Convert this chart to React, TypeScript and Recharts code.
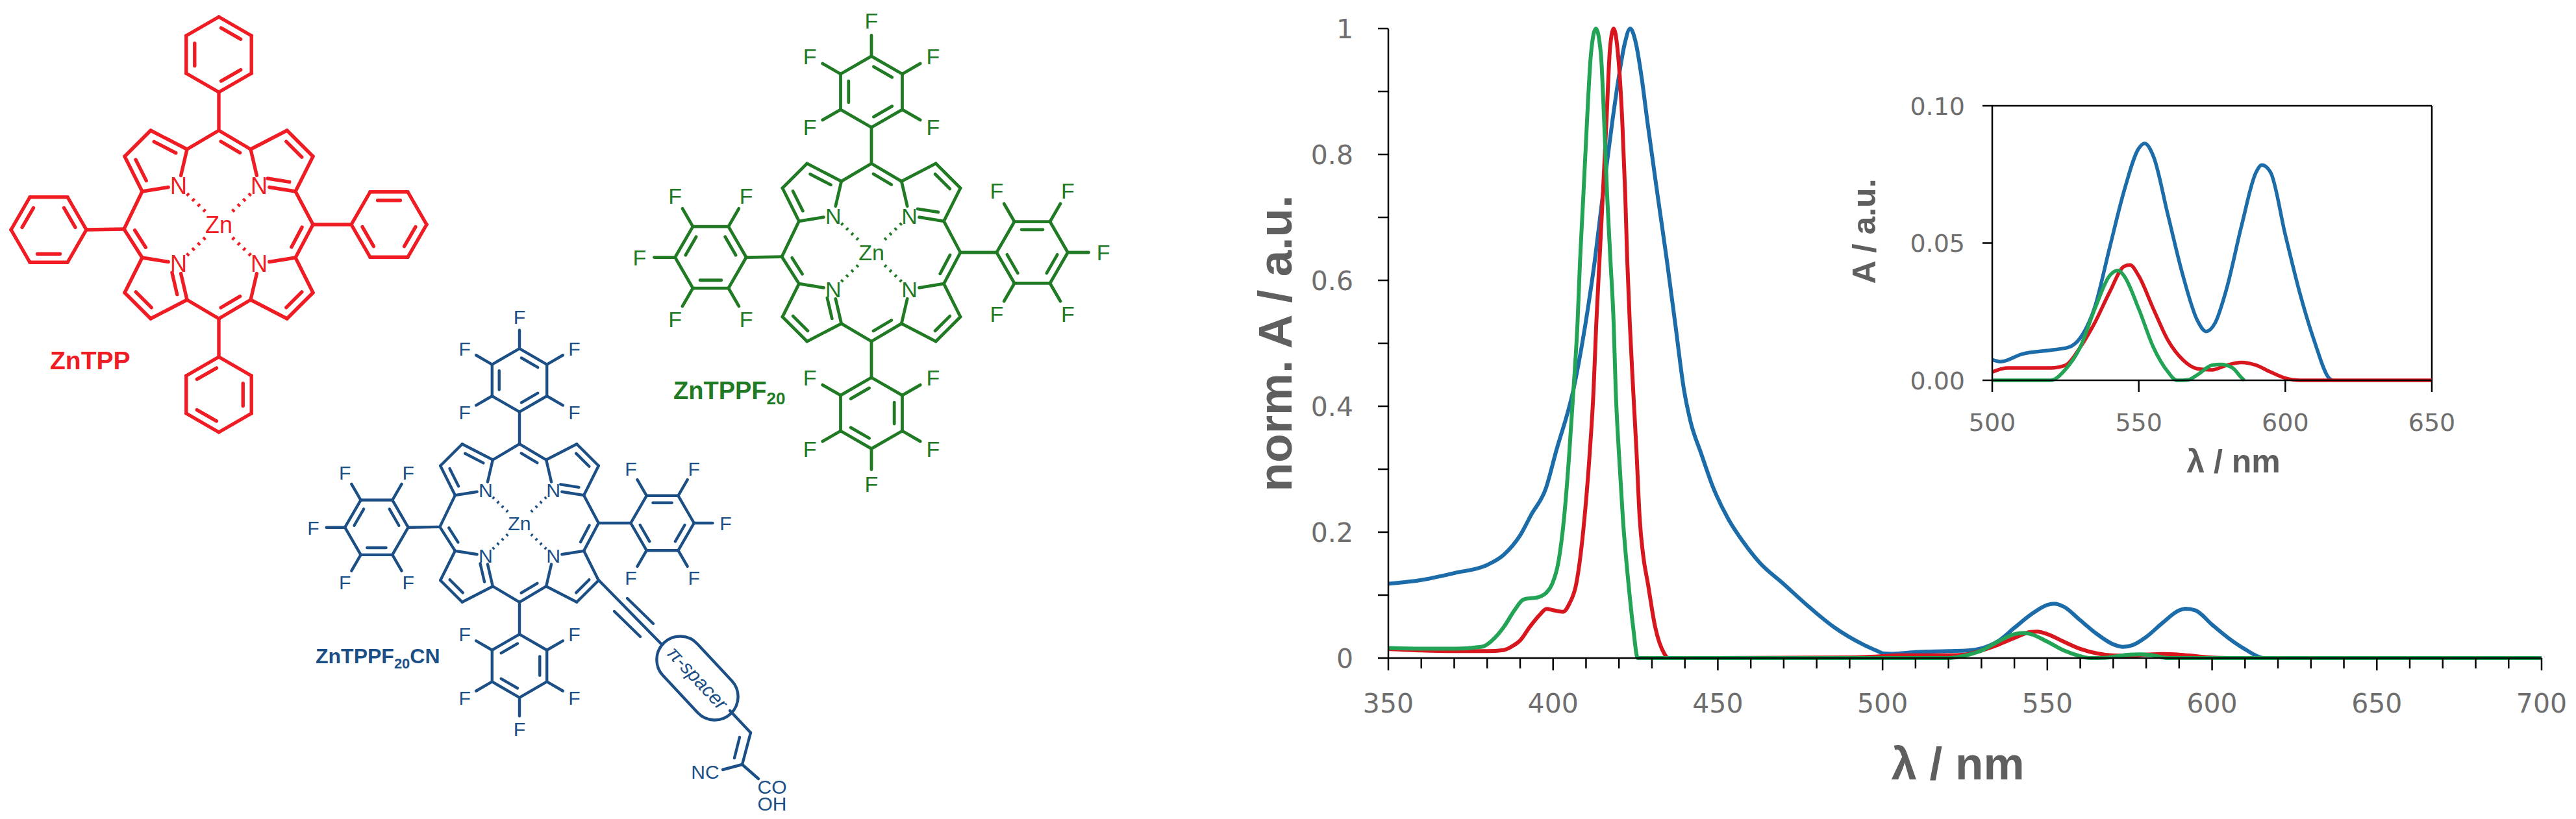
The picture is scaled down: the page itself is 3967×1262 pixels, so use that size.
import { LineChart, Line, XAxis, YAxis, Label, ReferenceLine } from 'recharts';

const W = 3967;
const H = 1262;
const FONT = '"Liberation Sans", Arial, sans-serif';
const TICK_FONT = '"DejaVu Sans", sans-serif';
const BLUE = '#1b6ca8';
const RED = '#d8161e';
const GREEN = '#22a356';
const GRAY = '#6e6e6e';
const TITLE = '#5f5f5f';

// Soret region, main panel only
const blueSoretWave = [350, 360, 370, 380, 385, 390, 393.4, 397.7, 401, 406.2, 409.8, 412.7, 415.1, 418, 420, 421.7, 423.4, 425.2, 426.8, 428.6, 431.7, 434.5, 437.1, 439.7, 441.7, 445, 448.5, 453.2, 457.5, 462.6, 470, 477.3, 485.3, 494.3, 498.9];
const blueSoretVal = [0.118, 0.124, 0.135, 0.148, 0.164, 0.195, 0.228, 0.268, 0.33, 0.427, 0.53, 0.633, 0.736, 0.853, 0.925, 0.975, 1, 0.975, 0.925, 0.853, 0.736, 0.633, 0.53, 0.427, 0.376, 0.324, 0.272, 0.2206, 0.186, 0.152, 0.1175, 0.083, 0.049, 0.021, 0.01];
const redSoretWave = [350, 360, 370, 380, 385, 388, 390, 393, 396, 398, 400, 403, 405, 407, 409.5, 411.1, 412.3, 413.1, 414.1, 415.1, 416.2, 417.3, 418.4, 419.5, 421, 421.9, 422.5, 423.3, 424.3, 425.3, 426.3, 427.3, 428.8, 431, 433.7, 435, 450, 490];
const redSoretVal = [0.0144, 0.012, 0.011, 0.011, 0.0127, 0.02, 0.028, 0.05, 0.069, 0.078, 0.076, 0.0735, 0.087, 0.117, 0.2206, 0.324, 0.427, 0.53, 0.633, 0.736, 0.853, 0.97, 1, 0.97, 0.853, 0.736, 0.633, 0.53, 0.427, 0.33, 0.2206, 0.165, 0.1175, 0.049, 0.0075, 0, 0, 0.001];
const greenSoretWave = [350, 360, 370.7, 378.5, 381.5, 385, 388.3, 391, 395.7, 398, 399.7, 401.6, 403.3, 404.9, 406.2, 407.4, 408.2, 409.2, 410.3, 411.5, 413, 414.5, 415.5, 416.4, 417.4, 418.4, 419, 420, 421.2, 422.9, 424.3, 425.7];
const greenSoretVal = [0.016, 0.015, 0.015, 0.018, 0.028, 0.049, 0.076, 0.093, 0.097, 0.104, 0.1175, 0.152, 0.2206, 0.324, 0.427, 0.53, 0.633, 0.736, 0.853, 0.96, 1, 0.96, 0.853, 0.736, 0.633, 0.53, 0.427, 0.324, 0.2206, 0.1175, 0.049, 0];

// Q bands, shared by the main panel and the inset
const blueQWave = [500, 503, 510, 520, 526, 530, 535, 540, 545, 550, 552, 555, 560, 565, 570, 573, 576, 580, 585, 590, 592, 595, 600, 605, 610, 615, 616];
const blueQVal = [0.0075, 0.0068, 0.0095, 0.011, 0.012, 0.0154, 0.0267, 0.048, 0.069, 0.0845, 0.0863, 0.0816, 0.06, 0.0384, 0.0218, 0.0178, 0.0208, 0.0335, 0.056, 0.0757, 0.0784, 0.0757, 0.053, 0.0316, 0.014, 0.0007, 0];
const redQWave = [500, 505, 520, 525, 530, 535, 540, 545, 547, 550, 555, 560, 565, 570, 575, 580, 585, 590, 595, 600, 605, 650];
const redQVal = [0.003, 0.0045, 0.0045, 0.0055, 0.012, 0.021, 0.032, 0.0415, 0.042, 0.038, 0.026, 0.0145, 0.0075, 0.0042, 0.0038, 0.0055, 0.0065, 0.0055, 0.003, 0.0008, 0, 0];
const greenQWave = [500, 520, 525, 530, 535, 540, 543, 545, 550, 555, 560, 563, 567, 570, 575, 578, 582, 585, 586];
const greenQVal = [0, 0, 0.004, 0.012, 0.026, 0.038, 0.04, 0.038, 0.026, 0.012, 0.003, 0, 0.0002, 0.002, 0.0055, 0.0058, 0.0045, 0.001, 0];

const mainXTicks = [350, 360, 370, 380, 390, 400, 410, 420, 430, 440, 450, 460, 470, 480, 490, 500, 510, 520, 530, 540, 550, 560, 570, 580, 590, 600, 610, 620, 630, 640, 650, 660, 670, 680, 690, 700];
const mainYTicks = [0, 0.1, 0.2, 0.3, 0.4, 0.5, 0.6, 0.7, 0.8, 0.9, 1];
const mainYLabels = ['0', '', '0.2', '', '0.4', '', '0.6', '', '0.8', '', '1'];
const insetXTicks = [500, 550, 600, 650];
const insetYTicks = [0, 0.05, 0.1];
const insetYLabels = ['0.00', '0.05', '0.10'];

const toPoints = (wave: number[], val: number[]) => wave.map((x, i) => ({ x, y: val[i] }));

const blueMain = toPoints([...blueSoretWave, ...blueQWave, 620, 700], [...blueSoretVal, ...blueQVal, 0, 0]);
const redMain = toPoints([...redSoretWave, ...redQWave, 700], [...redSoretVal, ...redQVal, 0]);
const greenMain = toPoints([...greenSoretWave, ...greenQWave, 700], [...greenSoretVal, ...greenQVal, 0]);
const blueInset = toPoints(blueQWave, blueQVal);
const redInset = toPoints(redQWave, redQVal);
const greenInset = toPoints(greenQWave, greenQVal);

function xTick(fontSize: number, labelDy: number, isMajor: (v: number) => boolean, major: number, minor: number) {
  return (props: any) => {
    const { x, y, payload } = props;
    const big = isMajor(payload.value);
    return (
      <g>
        <line x1={x} y1={y} x2={x} y2={y + (big ? major : minor)} stroke="#000" strokeWidth={2.5} />
        {big && (
          <text x={x} y={y + labelDy} textAnchor="middle" fontFamily={TICK_FONT} fontSize={fontSize} fill={GRAY}>
            {payload.value}
          </text>
        )}
      </g>
    );
  };
}

function yTick(fontSize: number, labelDx: number, size: number, ticks: number[], labels: string[]) {
  return (props: any) => {
    const { x, y, payload } = props;
    return (
      <g>
        <line x1={x - size} y1={y} x2={x} y2={y} stroke="#000" strokeWidth={2.5} />
        <text x={x - labelDx} y={y + fontSize * 0.36} textAnchor="end" fontFamily={TICK_FONT} fontSize={fontSize} fill={GRAY}>
          {labels[ticks.indexOf(payload.value)]}
        </text>
      </g>
    );
  };
}

function MainChart() {
  return (
    <LineChart width={2067} height={1262} margin={{ top: 44, right: 53, bottom: 8, left: 38 }} style={{ position: 'absolute', left: 1900, top: 0 }}>
      <XAxis
        type="number"
        dataKey="x"
        domain={[350, 700]}
        ticks={mainXTicks}
        interval={0}
        height={240}
        tickSize={0}
        tickMargin={0}
        tickLine={false}
        axisLine={{ stroke: '#000', strokeWidth: 2.5 }}
        tick={xTick(41, 84, (v) => v % 50 === 0, 19, 16)}
      >
        <Label value="λ / nm" position="insideBottom" offset={53} dx={-11} fontFamily={FONT} fontWeight="bold" fontSize={71} fill={TITLE} />
      </XAxis>
      <YAxis
        type="number"
        domain={[0, 1]}
        ticks={mainYTicks}
        interval={0}
        width={200}
        tickSize={0}
        tickMargin={0}
        tickLine={false}
        axisLine={{ stroke: '#000', strokeWidth: 2.5 }}
        tick={yTick(41, 54, 16, mainYTicks, mainYLabels)}
      >
        <Label value="norm. A / a.u." angle={-90} position="insideLeft" textAnchor="middle" offset={25} fontFamily={FONT} fontWeight="bold" fontSize={73} fill={TITLE} />
      </YAxis>
      <Line data={blueMain} dataKey="y" type="monotone" stroke={BLUE} strokeWidth={6} dot={false} isAnimationActive={false} />
      <Line data={redMain} dataKey="y" type="monotone" stroke={RED} strokeWidth={6} dot={false} isAnimationActive={false} />
      <Line data={greenMain} dataKey="y" type="monotone" stroke={GREEN} strokeWidth={6} dot={false} isAnimationActive={false} />
    </LineChart>
  );
}

function InsetChart() {
  return (
    <LineChart width={1000} height={650} margin={{ top: 63, right: 55, bottom: 4, left: 28 }} style={{ position: 'absolute', left: 2800, top: 100 }}>
      <XAxis
        type="number"
        dataKey="x"
        domain={[500, 650]}
        ticks={insetXTicks}
        interval={0}
        height={160}
        tickSize={0}
        tickMargin={0}
        tickLine={false}
        axisLine={{ stroke: '#000', strokeWidth: 2.5 }}
        tick={xTick(38, 78, () => true, 18, 18)}
      >
        <Label value="λ / nm" position="insideBottom" offset={18} dx={33} fontFamily={FONT} fontWeight="bold" fontSize={50} fill={TITLE} />
      </XAxis>
      <YAxis
        type="number"
        domain={[0, 0.1]}
        ticks={insetYTicks}
        interval={0}
        width={240}
        tickSize={0}
        tickMargin={0}
        tickLine={false}
        axisLine={{ stroke: '#000', strokeWidth: 2.5 }}
        tick={yTick(38, 42, 15, insetYTicks, insetYLabels)}
      >
        <Label value="A / a.u." angle={-90} position="insideLeft" textAnchor="middle" offset={42} dy={-18} fontFamily={FONT} fontWeight="bold" fontSize={50} fill={TITLE} />
      </YAxis>
      <ReferenceLine x={650} stroke="#000" strokeWidth={2.5} />
      <ReferenceLine y={0.1} stroke="#000" strokeWidth={2.5} />
      <Line data={blueInset} dataKey="y" type="monotone" stroke={BLUE} strokeWidth={5.5} dot={false} isAnimationActive={false} />
      <Line data={redInset} dataKey="y" type="monotone" stroke={RED} strokeWidth={5.5} dot={false} isAnimationActive={false} />
      <Line data={greenInset} dataKey="y" type="monotone" stroke={GREEN} strokeWidth={5.5} dot={false} isAnimationActive={false} />
    </LineChart>
  );
}

// Structure drawings on the left: plain svg, no data in them
type P = [number, number];

function Bond({ a, b, color, width }: { a: P; b: P; color: string; width: number }) {
  return <line x1={a[0]} y1={a[1]} x2={b[0]} y2={b[1]} stroke={color} strokeWidth={width} strokeLinecap="round" />;
}

const atomText = (x: number, y: number, t: string, color: string, size: number) => (
  <text x={x} y={y + size * 0.36} textAnchor="middle" fontFamily={FONT} fontSize={size} fill={color}>
    {t}
  </text>
);

// second line of a double bond, moved towards ref
function inner(a: P, b: P, ref: P, off: number): [P, P] {
  const mx = (a[0] + b[0]) / 2;
  const my = (a[1] + b[1]) / 2;
  const dx = b[0] - a[0];
  const dy = b[1] - a[1];
  const len = Math.hypot(dx, dy);
  let nx = -dy / len;
  let ny = dx / len;
  if (nx * (ref[0] - mx) + ny * (ref[1] - my) < 0) {
    nx = -nx;
    ny = -ny;
  }
  const k = 0.2;
  return [
    [a[0] + dx * k + nx * off, a[1] + dy * k + ny * off],
    [b[0] - dx * k + nx * off, b[1] - dy * k + ny * off],
  ];
}

function shorten(a: P, b: P, gap: number): P {
  const len = Math.hypot(b[0] - a[0], b[1] - a[1]);
  return [b[0] - ((b[0] - a[0]) / len) * gap, b[1] - ((b[1] - a[1]) / len) * gap];
}

function Aryl({ cx, cy, r, start, odd, fluoro, skip, color, width, s }: any) {
  const v: P[] = [0, 1, 2, 3, 4, 5].map((k) => {
    const t = ((start + 60 * k) * Math.PI) / 180;
    return [cx + r * Math.cos(t), cy + r * Math.sin(t)];
  });
  const c: P = [cx, cy];
  return (
    <g>
      {v.map((p, k) => (
        <Bond key={k} a={p} b={v[(k + 1) % 6]} color={color} width={width} />
      ))}
      {[0, 2, 4].map((k) => {
        const i = odd ? (k + 5) % 6 : k;
        const [a, b] = inner(v[i], v[(i + 1) % 6], c, 13 * s);
        return <Bond key={k} a={a} b={b} color={color} width={width} />;
      })}
      {fluoro &&
        v.map((p, k) => {
          if (k === skip) return null;
          const t = ((start + 60 * k) * Math.PI) / 180;
          const end: P = [cx + 92 * s * Math.cos(t), cy + 92 * s * Math.sin(t)];
          return (
            <g key={k}>
              <Bond a={p} b={end} color={color} width={width} />
              {atomText(cx + 116 * s * Math.cos(t), cy + 116 * s * Math.sin(t), 'F', color, 36 * s)}
            </g>
          );
        })}
    </g>
  );
}

function Porphyrin({ cx, cy, s, color, width, fluoro }: { cx: number; cy: number; s: number; color: string; width: number; fluoro: boolean }) {
  const pt = (x: number, y: number): P => [cx + x * s, cy + y * s];
  const d = 13 * s;
  const out: any[] = [];
  const add = (a: P, b: P, w = width) => out.push(<Bond key={out.length} a={a} b={b} color={color} width={w} />);
  const center: P = [cx, cy];
  const quads: [number, number][] = [
    [-1, -1],
    [1, -1],
    [1, 1],
    [-1, 1],
  ];
  const mesoLeft = pt(-146, 7);
  quads.forEach(([sx, sy]) => {
    const a1 = pt(49 * sx, 116 * sy);
    const b1 = pt(105 * sx, 145 * sy);
    const b2 = pt(145 * sx, 105 * sy);
    const a2 = pt(118 * sx, 51 * sy);
    const n = pt(62 * sx, 60 * sy);
    const mv = pt(0, 145 * sy);
    const mh = sx < 0 ? mesoLeft : pt(145, 0);
    const mid: P = [(a1[0] + b1[0] + b2[0] + a2[0] + n[0]) / 5, (a1[1] + b1[1] + b2[1] + a2[1] + n[1]) / 5];
    add(mv, a1);
    add(a1, b1);
    add(b1, b2);
    add(b2, a2);
    add(a2, mh);
    add(a1, shorten(a1, n, 16 * s));
    add(a2, shorten(a2, n, 16 * s));
    const dbl = (a: P, b: P, ref: P) => {
      const [p, q] = inner(a, b, ref, d);
      add(p, q);
    };
    if (sx < 0 && sy < 0) {
      dbl(a1, b1, mid);
      dbl(b2, a2, mid);
    } else if (sx > 0 && sy < 0) {
      dbl(b1, b2, mid);
      dbl(n, a2, mid);
      dbl(mv, a1, center);
    } else if (sx > 0 && sy > 0) {
      dbl(b1, b2, mid);
      dbl(a2, mh, center);
      dbl(mv, a1, center);
    } else {
      dbl(b1, b2, mid);
      dbl(n, a1, mid);
      dbl(a2, mh, center);
    }
    const from = shorten(center, n, 18 * s);
    const to = shorten(n, center, 26 * s);
    out.push(
      <line key={out.length} x1={from[0]} y1={from[1]} x2={to[0]} y2={to[1]} stroke={color} strokeWidth={width} strokeDasharray={`${width * 0.7} ${8 * s}`} />
    );
    out.push(<g key={out.length}>{atomText(n[0], n[1], 'N', color, 36 * s)}</g>);
  });
  const r = 58 * s;
  const dist = 262 * s;
  add(pt(0, -145), [cx, cy - dist + r]);
  add(pt(0, 145), [cx, cy + dist - r]);
  add(pt(145, 0), [cx + dist - r, cy]);
  add(mesoLeft, [cx - dist + r, cy + 8 * s]);
  const common = { r, color, width, s, fluoro };
  return (
    <g>
      {out}
      {atomText(cx, cy, 'Zn', color, 36 * s)}
      <Aryl {...common} cx={cx} cy={cy - dist} start={-90} odd={false} skip={3} />
      <Aryl {...common} cx={cx} cy={cy + dist} start={-90} odd skip={0} />
      <Aryl {...common} cx={cx + dist} cy={cy} start={0} odd={false} skip={3} />
      <Aryl {...common} cx={cx - dist} cy={cy + 8 * s} start={0} odd skip={0} />
    </g>
  );
}

function Structures() {
  const navy = '#1c4f86';
  const w = 4.4;
  return (
    <svg width={W} height={H} style={{ position: 'absolute', left: 0, top: 0 }}>
      <Porphyrin cx={337} cy={346} s={1} color="#ef1c24" width={5.4} fluoro={false} />
      <Porphyrin cx={1342} cy={389} s={0.945} color="#207a24" width={4.8} fluoro />
      <Porphyrin cx={800} cy={806} s={0.84} color={navy} width={w} fluoro />
      <text x={77} y={569} fontFamily={FONT} fontWeight="bold" fontSize={39} fill="#ef1c24">ZnTPP</text>
      <text x={1037} y={615} fontFamily={FONT} fontWeight="bold" fontSize={38} fill="#207a24">
        ZnTPPF<tspan fontSize={26} dy={8}>20</tspan>
      </text>
      <text x={486} y={1022} fontFamily={FONT} fontWeight="bold" fontSize={32} fill={navy}>
        ZnTPPF<tspan fontSize={22} dy={8}>20</tspan><tspan dy={-8}>CN</tspan>
      </text>
      <Bond a={[922, 894]} b={[1022, 996]} color={navy} width={w} />
      <Bond a={[966, 922]} b={[1006, 961]} color={navy} width={w} />
      <Bond a={[946, 942]} b={[986, 981]} color={navy} width={w} />
      <rect x={1074 - 75} y={1045 - 36} width={150} height={72} rx={36} fill="#fff" stroke={navy} strokeWidth={w} transform="rotate(47 1074 1045)" />
      <text x={1074} y={1055} textAnchor="middle" fontFamily={FONT} fontStyle="italic" fontSize={30} fill={navy} transform="rotate(47 1074 1045)">π-spacer</text>
      <Bond a={[1124, 1095]} b={[1156, 1129]} color={navy} width={w} />
      <Bond a={[1156, 1129]} b={[1143, 1178]} color={navy} width={w} />
      <Bond a={[1139, 1136]} b={[1131, 1168]} color={navy} width={w} />
      <Bond a={[1143, 1178]} b={[1113, 1186]} color={navy} width={w} />
      <Bond a={[1143, 1178]} b={[1168, 1200]} color={navy} width={w} />
      {atomText(1086, 1189, 'NC', navy, 30)}
      {atomText(1189, 1212, 'CO', navy, 30)}
      {atomText(1189, 1238, 'OH', navy, 30)}
    </svg>
  );
}

export default function App() {
  return (
    <div style={{ position: 'absolute', left: 0, top: 0, width: W, height: H, background: '#fff', overflow: 'hidden' }}>
      <Structures />
      <MainChart />
      <InsetChart />
    </div>
  );
}
